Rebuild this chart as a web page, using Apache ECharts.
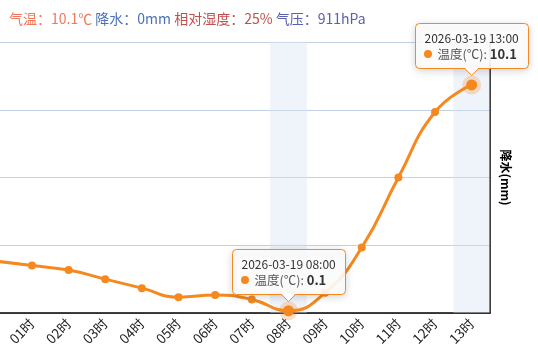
<!DOCTYPE html>
<html>
<head>
<meta charset="utf-8">
<script src="https://cdn.jsdelivr.net/npm/echarts@6/dist/echarts.min.js"></script>
<style>
html,body{margin:0;padding:0;background:#fff;}
#main{width:538px;height:357px;}
</style>
</head>
<body>
<div id="main"></div>
<script>
const hours = ['00时','01时','02时','03时','04时','05时','06时','07时','08时','09时','10时','11时','12时','13时'];
const temps = [2.3, 2.1, 1.9, 1.5, 1.1, 0.7, 0.8, 0.6, 0.1, 0.9, 2.9, 6.0, 8.9, 10.1];
const highlighted = ['08时', '13时'];
const tipTimes = ['2026-03-19 08:00', '2026-03-19 13:00'];
const yTicks = { min: 0, max: 12, interval: 3 };
const seriesName = '温度(℃)';

const ORANGE = '#f5891f';
const FONT = '"Noto Sans CJK SC", "Noto Sans", sans-serif';

const chart = echarts.init(document.getElementById('main'));

const lineData = temps.map((v, i) => highlighted.includes(hours[i])
  ? { value: v, symbolSize: 11, itemStyle: { color: ORANGE, borderColor: 'rgba(245,137,31,0.25)', borderWidth: 8 } }
  : v);
const shadeData = hours.map(h => highlighted.includes(h) ? 1 : '-');

chart.setOption({
  animation: false,
  textStyle: { fontFamily: FONT },
  title: {
    left: 4, top: 7,
    text: '{a|气温：10.1℃} {b|降水：0mm} {c|相对湿度：25%} {d|气压：911hPa}',
    textStyle: {
      fontSize: 14, fontWeight: 'normal',
      rich: {
        a: { color: '#f3775a', fontSize: 14, fontFamily: FONT },
        b: { color: '#4a72b5', fontSize: 14, fontFamily: FONT },
        c: { color: '#c0504d', fontSize: 14, fontFamily: FONT },
        d: { color: '#5a5fae', fontSize: 14, fontFamily: FONT }
      }
    }
  },
  grid: { left: -23, right: 48, top: 42, bottom: 44, outerBoundsMode: 'none' },
  xAxis: {
    type: 'category', data: hours, boundaryGap: true,
    axisLine: { lineStyle: { color: '#000', width: 1.5 } },
    axisTick: { length: 7, lineStyle: { color: '#000', width: 1.5 } },
    axisLabel: { rotate: 45, fontSize: 13.5, color: '#222', margin: 8, fontFamily: FONT }
  },
  yAxis: [
    {
      type: 'value', min: yTicks.min, max: yTicks.max, interval: yTicks.interval,
      axisLabel: { show: false }, axisLine: { show: false }, axisTick: { show: false },
      splitLine: { lineStyle: { color: '#c3d3e4', width: 1 } }
    },
    {
      type: 'value', position: 'right', name: '降水(mm)', nameLocation: 'middle', nameRotate: -90, nameGap: 10,
      nameTextStyle: { color: '#000', fontSize: 12, fontWeight: 'bold', fontFamily: FONT },
      min: 0, max: 1,
      axisLine: { show: true, lineStyle: { color: '#000', width: 1.5 } },
      axisLabel: { show: false }, axisTick: { show: false }, splitLine: { show: false }
    },
    { type: 'value', min: 0, max: 1, show: false, splitLine: { show: false } }
  ],
  series: [
    {
      type: 'bar', yAxisIndex: 2, data: shadeData, barWidth: '100%', silent: true, z: 1,
      itemStyle: { color: 'rgba(214,226,242,0.4)' }
    },
    {
      type: 'line', name: seriesName, data: lineData, smooth: true, z: 3,
      symbol: 'circle', symbolSize: 8,
      lineStyle: { width: 3, color: ORANGE },
      itemStyle: { color: ORANGE }
    }
  ]
});

// static tooltips anchored to data points
const graphics = [];
highlighted.forEach((h, k) => {
  const idx = hours.indexOf(h);
  const p = chart.convertToPixel({ seriesIndex: 1 }, [idx, temps[idx]]);
  const w = 113, hgt = 45;
  const left = Math.round(p[0] - w / 2) + 0.5;
  const bottom = Math.round(p[1] - 17) + 0.5;
  const top = bottom - hgt;
  graphics.push({
    type: 'rect', z: 100,
    shape: { x: left, y: top, width: w, height: hgt, r: 4 },
    style: { fill: 'rgba(255,255,255,0.9)', stroke: ORANGE, lineWidth: 1, shadowBlur: 8, shadowColor: 'rgba(0,0,0,0.18)', shadowOffsetY: 2 }
  });
  graphics.push({
    type: 'polygon', z: 101,
    shape: { points: [[p[0] - 7, bottom - 1], [p[0], bottom + 7], [p[0] + 7, bottom - 1]] },
    style: { fill: '#fff' }
  });
  graphics.push({
    type: 'polyline', z: 102,
    shape: { points: [[p[0] - 7, bottom], [p[0], bottom + 7], [p[0] + 7, bottom]] },
    style: { stroke: ORANGE, lineWidth: 1, fill: null }
  });
  graphics.push({
    type: 'text', z: 103,
    x: left + 9, y: top + 15,
    style: { text: tipTimes[k], fill: '#333', font: '12px ' + FONT, verticalAlign: 'middle' }
  });
  graphics.push({
    type: 'circle', z: 103,
    shape: { cx: left + 12.5, cy: top + 30.5, r: 4 },
    style: { fill: ORANGE }
  });
  graphics.push({
    type: 'text', z: 103,
    x: left + 22, y: top + 30.5,
    style: {
      text: '{n|' + seriesName + ': }{v|' + temps[idx] + '}',
      verticalAlign: 'middle',
      rich: {
        n: { fontSize: 12.5, fill: '#555', fontFamily: FONT },
        v: { fontSize: 13, fontWeight: 'bold', fill: '#333', fontFamily: FONT }
      }
    }
  });
});
chart.setOption({ graphic: graphics });
</script>
</body>
</html>
